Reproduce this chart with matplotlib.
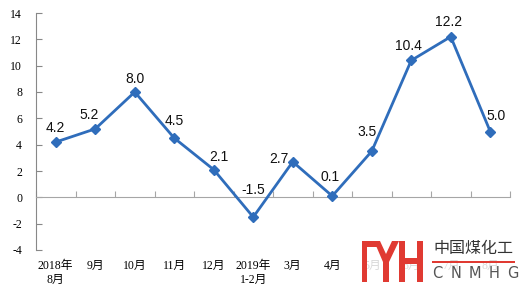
import matplotlib
matplotlib.use('Agg')
import matplotlib.pyplot as plt
import numpy as np
from matplotlib.patches import Rectangle, Polygon

# data
months = ['2018年\n8月', '9月', '10月', '11月', '12月', '2019年\n1-2月',
          '3月', '4月', '5月', '6月', '7月', '8月']
growth = [4.2, 5.2, 8.0, 4.5, 2.1, -1.5, 2.7, 0.1, 3.5, 10.4, 12.2, 5.0]
yticks = [-4, -2, 0, 2, 4, 6, 8, 10, 12, 14]

W, H = 520, 290
blue = '#2F6DBB'
red = '#E03A32'
serif_cjk = ['Liberation Serif', 'Noto Sans CJK SC']

# label offsets in pixels (dx, dy) so numbers sit like the original
offsets = [(0, 14), (-6, 14), (0, 13), (0, 17), (5, 13), (0, 27),
           (-14, 3), (-2, 19), (-5, 19), (-3, 14), (-2, 15), (6, 16)]


def fx(x):
    return x / W


def fy(y):
    return 1 - y / H


fig = plt.figure(figsize=(W / 100, H / 100), dpi=100)
ax = fig.add_axes([fx(36), fy(250), fx(510) - fx(36), fy(13) - fy(250)])

x = np.arange(len(growth))
ax.plot(x, growth, color=blue, linewidth=2.0, marker='D', markersize=5,
        markerfacecolor=blue, markeredgecolor=blue, zorder=3)

for i, v in enumerate(growth):
    dx, dy = offsets[i]
    ax.annotate('%.1f' % v, (i, v), xytext=(dx * 0.72, dy * 0.72),
                textcoords='offset points', ha='center', va='center',
                fontsize=10, family='Liberation Sans', color='#111111')

ax.set_xlim(-0.5, len(growth) - 0.5)
ax.set_ylim(-4, 14)

# zero line with category boundary ticks
for s in ['top', 'right']:
    ax.spines[s].set_visible(False)
ax.spines['bottom'].set_position(('data', 0))
ax.spines['bottom'].set_color('#A6A6A6')
ax.spines['left'].set_color('#888888')
ax.set_xticks(np.arange(-0.5, len(growth), 1))
ax.set_xticklabels([])
ax.tick_params(axis='x', direction='in', length=4, color='#A6A6A6')

ax.set_yticks(yticks)
ax.set_yticklabels([str(t) for t in yticks], family='Liberation Serif',
                   fontsize=8.5)
ax.tick_params(axis='y', direction='in', length=4, color='#888888', pad=10)

sec = ax.secondary_xaxis('bottom')
sec.spines['bottom'].set_visible(False)
sec.set_xticks(x)
sec.set_xticklabels(months, family=serif_cjk, fontsize=8.5, linespacing=1.3)
sec.tick_params(axis='x', length=0, pad=7)

# logo in the lower right corner, partly hiding the last labels
fig.patches.append(Rectangle((fx(352), fy(290)), fx(520) - fx(352),
                             fy(236) - fy(290), transform=fig.transFigure,
                             facecolor='white', alpha=0.85, edgecolor='none',
                             zorder=5))


def rect(x0, y0, x1, y1, color=red):
    fig.patches.append(Rectangle((fx(x0), fy(y1)), fx(x1) - fx(x0),
                                 fy(y0) - fy(y1), transform=fig.transFigure,
                                 facecolor=color, edgecolor='none', zorder=6))


rect(362, 241, 367, 282)
rect(362, 241, 377, 247)
ypts = [(374, 241), (380, 241), (386, 254), (392, 241), (399, 241),
        (389, 262), (389, 282), (383, 282), (383, 262)]
fig.patches.append(Polygon([(fx(a), fy(b)) for a, b in ypts], closed=True,
                           transform=fig.transFigure, facecolor=red,
                           edgecolor='none', zorder=6))
rect(399, 241, 405, 282)
rect(417, 241, 423, 282)
rect(399, 258, 423, 264)
rect(432, 261, 515, 262.5)

fig.text(fx(473), fy(249), '中国煤化工', family='Noto Sans CJK SC',
         fontsize=11.5, color='#333333', ha='center', va='center', zorder=7)
for i, ch in enumerate('CNMHG'):
    fig.text(fx(437 + i * 19), fy(274), ch, family='DejaVu Sans',
             fontsize=10.5, color='#555555', ha='center', va='center',
             zorder=7)

fig.savefig('out.png', dpi=100)
